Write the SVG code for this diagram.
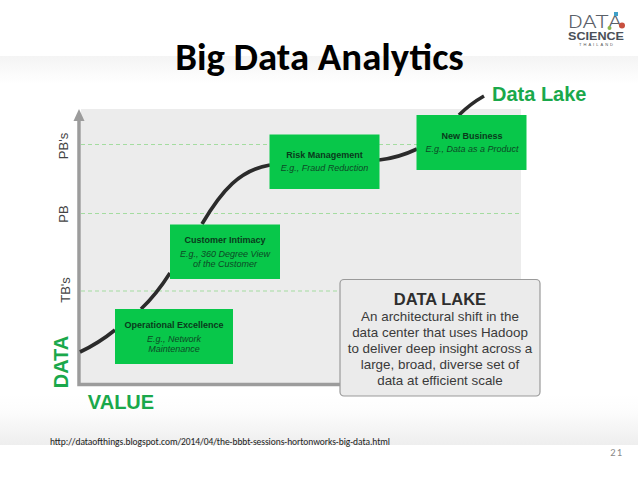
<svg xmlns="http://www.w3.org/2000/svg" width="638" height="479" viewBox="0 0 638 479">
<style>
.s{font-family:"Liberation Sans",Arial,sans-serif}
.b{font-weight:700}
.box{fill:#08c74a}
.h{font-size:9px;font-weight:700;fill:#0a3a1c;text-anchor:middle}
.i{font-size:9px;font-style:italic;fill:#0d4a26;text-anchor:middle}
.ax{font-size:13px;fill:#444;text-anchor:middle}
.dash{stroke:#a4dca0;stroke-width:1;stroke-dasharray:4 3;fill:none}
.c{fill:none;stroke:#2b2b2b;stroke-width:3.600}
.g{fill:#1aa84b}
.t{font-size:13.400px;fill:#3a3a3a;text-anchor:middle}
</style>
<defs>
<linearGradient id="top" x1="0" y1="0" x2="0" y2="1"><stop offset="0" stop-color="#f4f4f4"/><stop offset="1" stop-color="#fff"/></linearGradient>
<linearGradient id="bot" x1="0" y1="0" x2="0" y2="1"><stop offset="0" stop-color="#fff"/><stop offset=".35" stop-color="#fcfcfc"/><stop offset="1" stop-color="#eee"/></linearGradient>
</defs>
<rect width="638" height="479" fill="#fff"/>
<rect x="0" y="56" width="638" height="28" fill="url(#top)"/>
<rect x="0" y="395" width="638" height="50" fill="url(#bot)"/>
<rect x="81" y="109" width="440" height="275" fill="#ececec"/>
<g id="axes">
<path d="M79 116V384.500H345" fill="none" stroke="#9c9c9c" stroke-width="3.500"/>
<path d="M73.500 121L79 109L84.500 121Z" fill="#9c9c9c"/>
</g>
<g id="grid">
<path class="dash" d="M81 144.500H269M379 144.500H417"/>
<path class="dash" d="M81 213.500H521"/>
<path class="dash" d="M81 291H340"/>
</g>
<g id="connectors">
<path class="c" d="M80 352Q99 343 115 330"/>
<path class="c" d="M141 309Q156 295 170 273"/>
<path class="c" d="M202 224C222 190 240 170 270 165"/>
<path class="c" d="M379 160Q398 158 417 149"/>
<path class="c" d="M459 115Q470 104 484 96"/>
</g>
<g id="node-operational">
<rect class="box" x="115" y="309" width="118" height="55"/>
<text class="s h" x="174" y="328">Operational Excellence</text>
<text class="s i" x="174" y="341.500">E.g., Network</text>
<text class="s i" x="174" y="351.500">Maintenance</text>
</g>
<g id="node-customer">
<rect class="box" x="170" y="224.500" width="110" height="54.500"/>
<text class="s h" x="225" y="243">Customer Intimacy</text>
<text class="s i" x="225" y="257">E.g., 360 Degree View</text>
<text class="s i" x="225" y="267">of the Customer</text>
</g>
<g id="node-risk">
<rect class="box" x="269.500" y="134.500" width="110" height="54.500"/>
<text class="s h" x="324.500" y="158">Risk Management</text>
<text class="s i" x="324.500" y="171">E.g., Fraud Reduction</text>
</g>
<g id="node-business">
<rect class="box" x="416.500" y="115" width="110" height="55"/>
<text class="s h" x="472" y="139">New Business</text>
<text class="s i" x="472" y="151.500">E.g., Data as a Product</text>
</g>
<g id="node-callout">
<rect x="340" y="279.500" width="200" height="116.500" rx="4" fill="#ebebeb" stroke="#9a9a9a" stroke-width="1.200"/>
<text class="s b" x="440" y="304.500" font-size="16.500" fill="#2e2e2e" text-anchor="middle">DATA LAKE</text>
<text class="s t" x="440" y="321">An architectural shift in the</text>
<text class="s t" x="440" y="337">data center that uses Hadoop</text>
<text class="s t" x="440" y="353">to deliver deep insight across a</text>
<text class="s t" x="440" y="369">large, broad, diverse set of</text>
<text class="s t" x="440" y="385">data at efficient scale</text>
</g>
<g id="labels">
<text x="319.500" y="70" font-family="Carlito,'Open Sans','Liberation Sans',sans-serif" font-weight="700" font-size="38.800" fill="#000" text-anchor="middle">Big Data Analytics</text>
<text class="s b g" x="492" y="101" font-size="20">Data Lake</text>
<text class="s b g" x="121" y="409" font-size="20" text-anchor="middle">VALUE</text>
<text class="s b g" transform="translate(68 362) rotate(-90)" font-size="20" text-anchor="middle">DATA</text>
<text class="s ax" transform="translate(68 146) rotate(-90)">PB's</text>
<text class="s ax" transform="translate(68 214) rotate(-90)">PB</text>
<text class="s ax" transform="translate(70 290) rotate(-90)">TB's</text>
<text x="50" y="445" font-family="Carlito,'Open Sans','Liberation Sans',sans-serif" font-size="9.500" fill="#222" textLength="340" lengthAdjust="spacing">http://dataofthings.blogspot.com/2014/04/the-bbbt-sessions-hortonworks-big-data.html</text>
<text x="623" y="456" font-family="Carlito,'Open Sans','Liberation Sans',sans-serif" font-size="10.500" fill="#8a8a8a" text-anchor="end" letter-spacing="1">21</text>
</g>
<g id="logo">
<rect x="555" y="0" width="83" height="56" fill="#fff"/>
<text x="568" y="28" font-family="Roboto,'Liberation Sans',sans-serif" font-weight="300" font-size="19" fill="#5a6068" textLength="54" lengthAdjust="spacingAndGlyphs">DATA</text>
<text class="s b" x="596" y="39.500" font-size="10.500" fill="#4a5058" text-anchor="middle" textLength="56" lengthAdjust="spacingAndGlyphs">SCIENCE</text>
<text class="s" x="596" y="46" font-size="4" fill="#555" text-anchor="middle" textLength="34">THAILAND</text>
<circle cx="609.500" cy="28" r="2" fill="#8bb54a"/>
<circle cx="622" cy="25.500" r="3" fill="#c8503f"/>
<rect x="614" y="12" width="4" height="4" fill="#3fa0c8"/>
</g>
</svg>
